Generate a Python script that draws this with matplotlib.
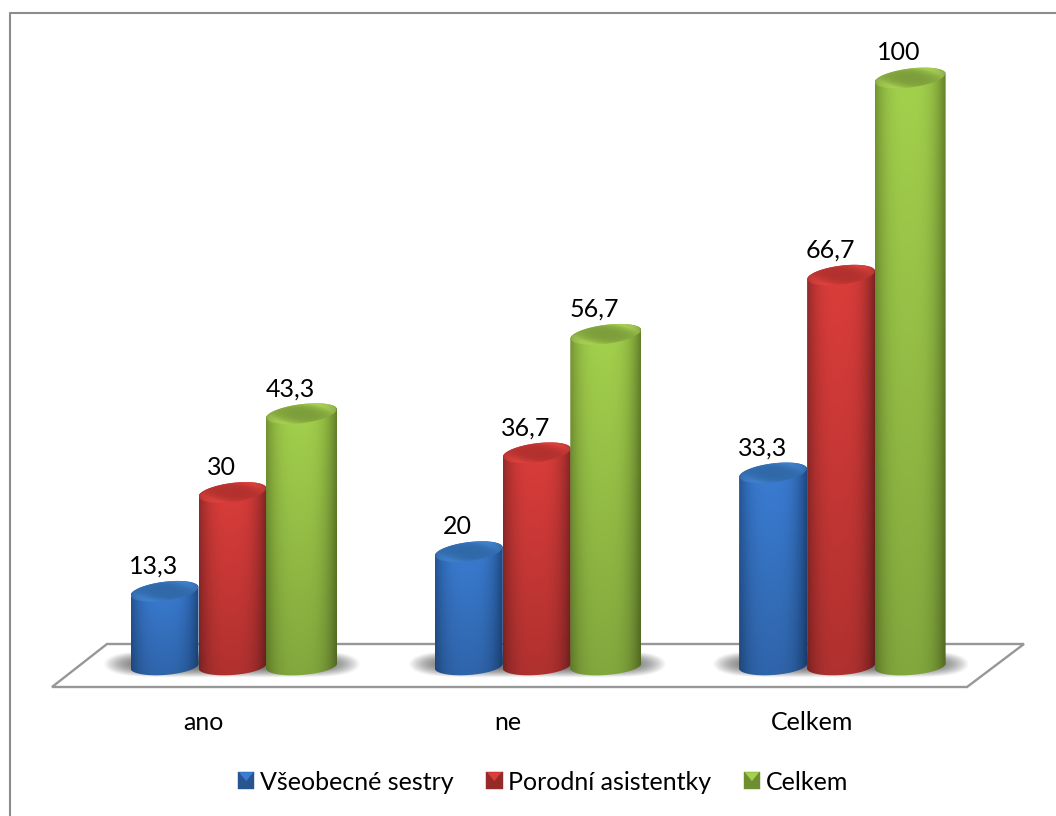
import numpy as np
import matplotlib
matplotlib.use('Agg')
import matplotlib.pyplot as plt
from matplotlib.legend_handler import HandlerBase
from matplotlib.lines import Line2D
from matplotlib.patches import Patch, PathPatch, Polygon
from matplotlib.path import Path

categories = ['ano', 'ne', 'Celkem']
sestry = [13.3, 20, 33.3]
asistentky = [30, 36.7, 66.7]
celkem = [43.3, 56.7, 100]
series_names = ['Všeobecné sestry', 'Porodní asistentky', 'Celkem']

plt.rcParams['font.family'] = ['Lato', 'DejaVu Sans']

W, H = 1056, 816
PX_PER_CAT = 304.3     # pixels between categories
PX_PER_UNIT = 5.92     # pixels per percent
X0, Y0 = 232.5, 670    # pixel of category 0 / of value 0

fig = plt.figure(figsize=(W / 100, H / 100), dpi=100, facecolor='white')
ax = fig.add_axes([0, 0, 1, 1])
xlim = (-X0 / PX_PER_CAT, (W - X0) / PX_PER_CAT)
ylim = ((Y0 - H) / PX_PER_UNIT, Y0 / PX_PER_UNIT)
ax.axis('off')


def dx(px):
    return px / PX_PER_CAT


def dy(px):
    # positive px means further down the page
    return -px / PX_PER_UNIT


# (edge colour, centre colour, top disc centre, top disc rim)
colors = [
    ((0.13, 0.31, 0.55), (0.23, 0.49, 0.83), (0.19, 0.41, 0.66), (0.25, 0.51, 0.81)),
    ((0.53, 0.15, 0.15), (0.86, 0.24, 0.23), (0.70, 0.19, 0.18), (0.87, 0.26, 0.24)),
    ((0.42, 0.54, 0.18), (0.64, 0.82, 0.30), (0.49, 0.62, 0.23), (0.66, 0.82, 0.33)),
]
offsets = [-68, 0, 69]
widths = [68, 68, 71]


def disc(cx, cy, w, h, shear, t):
    # tilted ellipse, right side higher than the left
    return cx + dx(w * np.cos(t)), cy + dy(-h * np.sin(t) - shear * w * np.cos(t))


def shadow(i):
    # soft shadow lying on the floor behind a group of bars
    xs = np.linspace(-1, 1, 300)
    ys = np.linspace(-1, 1, 50)
    d = np.abs(xs)[None, :] ** 7 + np.abs(ys)[:, None] ** 2
    rgba = np.zeros((50, 300, 4))
    rgba[..., :3] = 0.40
    rgba[..., 3] = np.clip(1 - d, 0, 1) ** 1.2 * 0.95
    ax.imshow(rgba, extent=(i + dx(-129), i + dx(129), dy(8), dy(-20)),
              aspect='auto', interpolation='bilinear', zorder=2)


def cylinder(x, value, s, width):
    edge, centre, top_c, top_r = [np.array(c) for c in colors[s]]
    w = width / 2
    base = dy(-4)
    t = np.linspace(0, np.pi, 60)
    # outline: upper arc of the top disc, then lower arc of the bottom disc
    ux, uy = disc(x, value, w, 9.5, 0.12, t)
    lx, ly = disc(x, base, w, 9, 0.07, t + np.pi)
    verts = np.r_[np.c_[ux, uy], np.c_[lx, ly], [[ux[0], uy[0]]]]
    body = PathPatch(Path(verts), transform=ax.transData, fc='none', ec='none')
    ax.add_patch(body)

    u = np.linspace(-1, 1, 256)
    v = np.linspace(0, 1, 64)
    shade = 1 - np.abs(u + 0.05) ** 3
    img = edge[None, None, :] + (centre - edge)[None, None, :] * shade[None, :, None]
    # bars get darker towards the floor
    img = img * (1 - 0.2 * v)[:, None, None]
    im = ax.imshow(np.clip(img, 0, 1), extent=(x - dx(w), x + dx(w), base + dy(12), value + dy(-12)),
                   aspect='auto', interpolation='bilinear', zorder=3)
    im.set_clip_path(body)

    # top disc, darker in the middle with a lighter rim
    t = np.linspace(0, 2 * np.pi, 120)
    tx, ty = disc(x, value, w - 0.5, 9.5, 0.12, t)
    lid = PathPatch(Path(np.c_[tx, ty]), transform=ax.transData, fc='none', ec='none')
    ax.add_patch(lid)
    gx, gy = np.meshgrid(np.linspace(-1, 1, 120), np.linspace(1, -1, 60))
    r = np.clip(np.hypot(gx, gy + 0.3 * gx), 0, 1)[..., None]
    lid_img = top_c + (top_r - top_c) * r ** 3
    # soft edge darkening at both ends of the disc
    lid_img = lid_img * (1 - 0.18 * np.abs(gx)[..., None] ** 4)
    im = ax.imshow(lid_img, extent=(x - dx(w), x + dx(w), value + dy(12), value + dy(-12)),
                   aspect='auto', interpolation='bilinear', zorder=3)
    im.set_clip_path(lid)


# only the top and left edges of the chart frame are on the page
fig.add_artist(Line2D([1, 9.5 / W, 9.5 / W], [1 - 12.5 / H, 1 - 12.5 / H, 0], transform=fig.transFigure,
                      color='#8c8c8c', lw=1.5))

# floor
floor = [(52, 687), (967, 687), (1024, 644), (107, 644)]
ax.add_patch(Polygon([((px - X0) / PX_PER_CAT, (Y0 - py) / PX_PER_UNIT) for px, py in floor],
                     closed=True, fc='white', ec='#979797', lw=1.7, zorder=1))

for i in range(len(categories)):
    shadow(i)

for s, values in enumerate([sestry, asistentky, celkem]):
    for i, val in enumerate(values):
        bx = i + dx(offsets[s])
        cylinder(bx, val, s, widths[s])
        ax.annotate(str(val).replace('.', ','), (bx, val), xytext=(-11, 25), textcoords='offset pixels',
                    ha='center', va='center', fontsize=18, color='black', zorder=5)

for i, cat in enumerate(categories):
    ax.text(i + dx(-29), dy(722 - Y0), cat, ha='center', va='center', fontsize=18, color='black')

ax.set_xlim(xlim)
ax.set_ylim(ylim)


class PyramidHandler(HandlerBase):
    # legend key: small square shaded like a bevelled pyramid
    def create_artists(self, legend, orig_handle, xdescent, ydescent, width, height, fontsize, trans):
        top = np.array(orig_handle.get_facecolor()[:3])
        x0, y0 = -xdescent, -ydescent
        x1, y1 = x0 + width, y0 + height
        mx, my = (x0 + x1) / 2, (y0 + y1) / 2
        faces = [
            ([(x0, y0), (x1, y0), (x1, y1), (x0, y1)], top * 0.68),
            ([(x0 + 1, y1), (x1 - 1, y1), (mx, my)], top),
        ]
        return [Polygon(p, closed=True, fc=c, ec=c, lw=0.3, transform=trans) for p, c in faces]


handles = [Patch(fc=c[1]) for c in colors]
fig.legend(handles, series_names, loc='center', bbox_to_anchor=(543 / W, 1 - 782 / H), ncol=3, frameon=False,
           fontsize=18, handlelength=0.66, handleheight=0.66, handletextpad=0.22, columnspacing=1.3,
           handler_map={Patch: PyramidHandler()})

fig.savefig('out.png', dpi=100)
